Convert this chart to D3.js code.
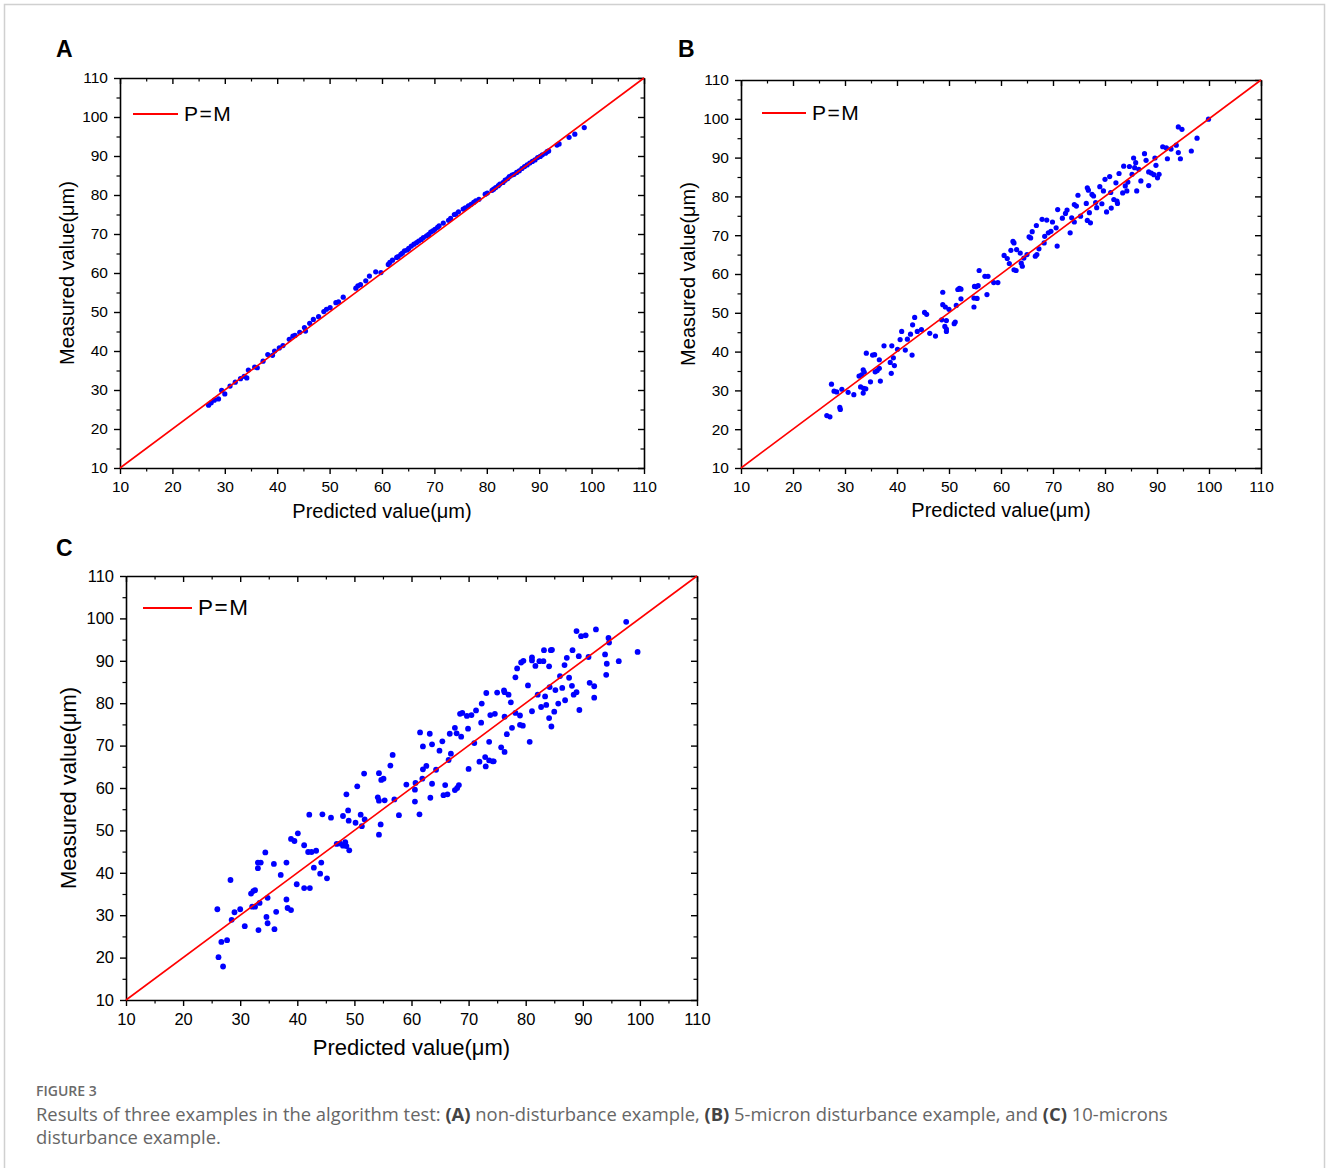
<!DOCTYPE html>
<html>
<head>
<meta charset="utf-8">
<script src="https://cdn.jsdelivr.net/npm/d3@7"></script>
<style>
  body { margin: 0; background: #fff; }
  svg text { font-family: "Liberation Sans", Arial, sans-serif; }
  svg text.cap { font-family: "Open Sans", "Noto Sans", sans-serif; }
</style>
</head>
<body>
<svg id="fig" width="1328" height="1168"></svg>
<script>
// tick values shared by every axis
const ticks = [10, 20, 30, 40, 50, 60, 70, 80, 90, 100, 110];
const minorTicks = [15, 25, 35, 45, 55, 65, 75, 85, 95, 105];

// A: non-disturbance
const aPred = [26.9, 27.4, 28.0, 28.8, 29.4, 30.0, 31.0, 32.0, 33.0, 33.7, 34.2, 34.5, 35.7, 36.2, 37.3, 38.2, 39.1, 39.5, 40.4, 41.1,
  42.3, 43.0, 43.4, 44.3, 45.2, 45.4, 46.2, 46.9, 47.9, 48.9, 49.4, 50.1, 51.2, 51.7, 52.6, 55.0, 55.4, 55.9, 56.9, 57.6,
  58.8, 59.8, 61.2, 61.5, 62.0, 62.8, 63.1, 63.6, 63.9, 64.3, 64.8, 65.1, 65.6, 66.1, 66.6, 67.0, 67.5, 67.9, 68.5, 68.9,
  69.3, 69.7, 70.1, 70.6, 70.9, 71.7, 72.7, 73.1, 73.8, 74.1, 74.6, 75.5, 75.9, 76.5, 77.0, 77.5, 77.9, 78.5, 79.7, 80.1,
  81.0, 81.3, 81.7, 82.2, 82.5, 83.1, 83.5, 84.0, 84.3, 84.8, 85.2, 85.7, 86.2, 86.7, 87.2, 87.7, 88.2, 88.7, 89.2, 89.7,
  90.2, 90.6, 91.2, 91.5, 91.8, 93.4, 93.8, 95.7, 96.8, 98.6];
const aMeas = [26.1, 26.7, 27.4, 27.7, 29.9, 29.0, 31.0, 32.0, 32.9, 33.5, 33.1, 35.1, 35.9, 35.7, 37.4, 39.1, 38.9, 40.0, 40.8, 41.4,
  43.0, 43.8, 44.0, 44.8, 46.0, 45.1, 47.1, 48.1, 48.8, 50.1, 50.7, 51.1, 52.4, 52.6, 53.8, 56.1, 56.7, 57.0, 58.0, 59.2,
  60.3, 60.1, 62.2, 62.7, 63.3, 64.0, 64.2, 64.8, 65.1, 65.7, 65.9, 66.3, 66.9, 67.4, 67.8, 68.2, 68.6, 69.1, 69.5, 69.9,
  70.5, 70.8, 71.2, 71.7, 72.1, 72.8, 73.5, 74.0, 75.0, 75.1, 75.7, 76.4, 76.7, 77.2, 77.6, 78.1, 78.5, 78.9, 80.2, 80.5,
  81.2, 81.5, 81.9, 82.4, 82.8, 83.2, 83.8, 84.2, 84.7, 85.1, 85.3, 85.8, 86.2, 86.8, 87.3, 87.7, 88.2, 88.6, 89.0, 89.6,
  89.9, 90.3, 90.7, 91.1, 91.3, 92.8, 93.1, 94.8, 95.6, 97.3];

// B: 5-micron disturbance
const bPred = [26.5, 27.1, 27.4, 27.9, 28.4, 29.0, 29.1, 29.4, 30.6, 31.7, 32.7, 33.2, 33.0, 33.6, 33.5, 34.0, 33.5, 33.7, 34.1, 34.9,
  35.3, 35.7, 35.8, 36.2, 36.6, 36.6, 36.8, 37.5, 38.7, 38.9, 39.0, 39.3, 39.5, 40.1, 40.6, 40.9, 41.6, 42.0, 42.6, 42.9,
  43.0, 43.4, 43.9, 44.7, 45.3, 45.7, 46.3, 47.4, 48.6, 48.8, 48.8, 49.3, 49.5, 49.2, 49.5, 49.5, 50.0, 51.2, 51.0, 51.4,
  51.7, 52.0, 52.3, 52.3, 54.9, 55.2, 55.6, 54.8, 55.4, 54.8, 55.8, 56.9, 57.5, 57.3, 58.6, 59.4, 60.6, 61.2, 61.6, 61.9,
  62.3, 62.5, 63.0, 62.5, 62.9, 63.7, 63.9, 64.1, 64.4, 65.0, 65.4, 65.7, 66.0, 66.8, 66.6, 66.9, 67.3, 67.9, 68.8, 68.4,
  68.3, 69.1, 69.6, 69.9, 70.6, 70.9, 70.8, 71.8, 72.4, 72.7, 73.3, 73.6, 74.1, 74.5, 74.1, 74.8, 75.3, 76.4, 76.6, 76.8,
  76.6, 77.2, 77.0, 77.5, 77.8, 78.2, 78.4, 79.0, 79.4, 79.7, 80.0, 80.3, 80.9, 81.1, 81.2, 81.7, 82.1, 82.3, 82.4, 82.7,
  83.4, 83.6, 83.9, 84.2, 84.4, 84.7, 85.2, 85.5, 85.9, 85.7, 86.1, 86.5, 86.9, 87.6, 87.9, 88.4, 88.4, 88.9, 89.4, 89.6,
  89.8, 90.1, 90.4, 91.1, 91.8, 92.0, 92.7, 93.7, 94.1, 94.1, 94.8, 94.5, 96.6, 97.7, 99.9];
const bMeas = [23.5, 23.2, 31.6, 29.8, 29.6, 25.6, 25.1, 30.3, 29.5, 28.9, 33.7, 34.0, 30.9, 30.5, 29.3, 30.4, 35.3, 34.7, 39.6, 32.2,
  39.1, 39.2, 34.8, 35.1, 35.7, 37.9, 32.4, 41.5, 37.2, 34.4, 41.5, 38.4, 36.4, 40.6, 43.1, 45.2, 40.4, 43.2, 44.5, 39.1,
  46.9, 48.8, 45.2, 45.7, 50.1, 49.6, 44.7, 44.0, 48.2, 55.3, 52.1, 51.5, 48.0, 46.5, 45.8, 45.2, 50.9, 47.6, 47.2, 51.9,
  56.0, 56.3, 56.1, 53.6, 56.8, 56.7, 57.0, 53.8, 53.7, 51.5, 60.9, 59.4, 59.4, 54.7, 57.8, 57.8, 64.8, 64.0, 62.7, 66.1,
  68.4, 68.0, 66.3, 61.1, 60.9, 65.4, 62.8, 62.0, 64.1, 65.0, 69.6, 69.3, 70.9, 72.5, 64.6, 65.0, 66.5, 74.1, 73.9, 69.7,
  68.0, 70.6, 71.0, 73.4, 71.9, 76.6, 67.2, 74.4, 75.6, 76.5, 70.6, 74.5, 73.4, 77.5, 77.9, 80.3, 74.9, 78.2, 82.2, 81.6,
  73.8, 73.2, 75.8, 80.5, 80.1, 78.4, 77.1, 82.5, 78.1, 81.4, 84.4, 76.0, 85.1, 81.0, 77.0, 79.2, 83.5, 78.8, 78.2, 85.9,
  80.9, 87.8, 82.7, 81.4, 83.7, 87.7, 85.7, 89.9, 88.7, 87.4, 81.4, 87.0, 84.0, 91.0, 89.3, 86.3, 82.8, 86.0, 85.6, 89.9,
  88.0, 84.8, 85.7, 92.8, 92.5, 89.7, 92.2, 93.2, 91.3, 97.9, 97.3, 89.7, 91.7, 95.0, 99.9];

// C: 10-micron disturbance
const cPred = [26.0, 26.2, 27.0, 26.7, 27.7, 28.3, 28.5, 29.0, 30.0, 30.8, 31.9, 32.3, 32.6, 32.1, 32.6, 33.4, 33.1, 33.1, 33.6, 33.2,
  34.4, 34.6, 34.8, 34.8, 35.9, 36.0, 36.3, 37.1, 38.1, 38.1, 38.3, 38.9, 38.9, 39.5, 40.1, 39.9, 41.2, 42.2, 41.2, 41.9,
  42.5, 43.3, 42.9, 44.0, 44.2, 45.2, 42.1, 44.4, 45.9, 46.9, 47.5, 48.0, 48.4, 48.6, 49.1, 48.0, 48.6, 48.9, 49.0, 50.2,
  51.1, 51.3, 51.8, 50.5, 51.7, 54.3, 55.1, 54.7, 56.3, 56.7, 54.1, 54.3, 55.3, 57.0, 54.6, 54.3, 57.8, 59.1, 60.6, 60.7,
  60.6, 61.4, 61.5, 63.2, 62.0, 62.0, 62.6, 61.9, 63.6, 64.3, 63.6, 63.3, 64.9, 65.4, 65.9, 65.6, 66.3, 66.5, 66.9, 66.7,
  67.6, 67.9, 67.6, 68.0, 68.3, 68.7, 68.5, 68.9, 69.7, 70.5, 69.9, 70.0, 71.0, 71.3, 72.2, 72.3, 73.1, 73.8, 74.6, 73.6,
  73.6, 71.9, 72.9, 73.0, 74.2, 74.4, 75.0, 76.2, 76.3, 77.0, 77.4, 76.3, 75.7, 76.3, 76.7, 77.6, 78.2, 79.0, 79.0, 79.5,
  78.2, 78.5, 79.2, 79.6, 80.4, 81.1, 81.1, 81.7, 82.4, 83.1, 83.2, 84.1, 84.4, 84.6, 81.1, 80.7, 82.1, 82.7, 83.4, 83.6,
  84.1, 84.5, 84.2, 85.0, 85.2, 85.7, 86.0, 86.4, 86.8, 87.2, 87.6, 88.1, 88.2, 88.9, 89.7, 90.5, 89.3, 88.9, 88.4, 86.9,
  89.4, 91.0, 91.2, 92.0, 92.0, 92.3, 93.9, 94.2, 94.1, 94.5, 94.6, 96.3, 97.6, 99.6];
const cMeas = [31.4, 20.1, 17.9, 23.7, 24.1, 38.3, 28.9, 30.7, 31.4, 27.4, 35.1, 35.7, 35.9, 32.0, 32.0, 32.9, 41.1, 42.4, 42.4, 26.5,
  44.8, 29.6, 28.1, 34.1, 42.1, 26.7, 30.8, 39.5, 42.4, 33.7, 31.7, 31.2, 48.0, 47.5, 49.3, 37.3, 36.4, 36.4, 46.5, 44.9,
  44.9, 45.2, 41.2, 39.8, 42.4, 38.7, 53.7, 53.8, 53.0, 46.8, 46.9, 46.4, 47.2, 46.3, 45.3, 53.4, 58.5, 54.7, 52.3, 51.8,
  53.7, 51.0, 52.6, 60.4, 63.4, 63.5, 62.2, 61.9, 65.3, 67.8, 57.8, 57.0, 57.1, 57.3, 51.4, 49.0, 53.6, 60.8, 59.6, 61.2,
  56.8, 53.8, 73.1, 72.8, 69.8, 64.4, 65.2, 62.2, 70.3, 64.3, 61.0, 57.7, 68.8, 71.0, 60.7, 58.3, 58.5, 66.6, 68.1, 72.8,
  74.2, 72.9, 59.5, 60.0, 60.7, 72.1, 77.5, 77.7, 77.0, 77.2, 74.0, 64.5, 70.6, 78.3, 75.4, 79.9, 82.4, 77.2, 77.5, 70.9,
  66.5, 66.2, 67.3, 65.1, 66.3, 66.3, 82.5, 83.0, 82.6, 82.0, 80.2, 76.8, 69.6, 68.5, 72.7, 74.2, 77.7, 77.1, 74.9, 74.7,
  86.1, 88.2, 89.6, 90.0, 84.2, 90.8, 90.1, 88.8, 89.9, 89.9, 92.5, 88.7, 92.5, 92.6, 78.1, 70.9, 82.0, 79.1, 81.6, 79.6,
  76.5, 74.5, 83.8, 78.0, 83.1, 79.9, 86.4, 83.6, 89.0, 90.7, 86.0, 84.1, 92.5, 97.0, 95.8, 96.0, 91.1, 82.6, 82.0, 80.7,
  78.4, 90.9, 84.8, 84.0, 81.3, 97.4, 91.5, 89.3, 86.7, 95.4, 94.3, 89.9, 99.2, 92.1];

const xTitle = "Predicted value(\u03bcm)";
const yTitle = "Measured value(\u03bcm)";
const legendLabel = "P=M";

let svg = d3.select("#fig");

// light frame around the figure
svg.append("rect")
  .attr("x", 4.5).attr("y", 4.5)
  .attr("width", 1320).attr("height", 1200)
  .attr("fill", "none").attr("stroke", "#d0d0d0").attr("stroke-width", 1.5);

let panels = [
  { letter: "A", left: 120, top: 78, w: 524, h: 390, r: 2.6, tickFont: 15.5, titleFont: 20, legFont: 21,
    letterX: 56, letterY: 57, yTitleX: 74, xTitleY: 518, legDx: 13, legLen: 45, legDy: 36, pred: aPred, meas: aMeas },
  { letter: "B", left: 741, top: 80, w: 520, h: 388, r: 2.6, tickFont: 15.5, titleFont: 20, legFont: 21,
    letterX: 678, letterY: 57, yTitleX: 695, xTitleY: 517, legDx: 21, legLen: 44, legDy: 33, pred: bPred, meas: bMeas },
  { letter: "C", left: 126, top: 576, w: 571, h: 424, r: 2.9, tickFont: 16.5, titleFont: 22, legFont: 22.5,
    letterX: 56, letterY: 556, yTitleX: 76, xTitleY: 1055, legDx: 17, legLen: 49, legDy: 32, pred: cPred, meas: cMeas }
];

let drawPanel = (p) => {
  let g = svg.append("g").attr("transform", `translate(${p.left}, ${p.top})`);

  let x = d3.scaleLinear().domain([10, 110]).range([0, p.w]);
  let y = d3.scaleLinear().domain([10, 110]).range([p.h, 0]);

  let styleAxis = (sel) => {
    sel.attr("font-size", p.tickFont).attr("font-family", "Liberation Sans, Arial, sans-serif");
    sel.select(".domain").attr("stroke-width", 1.6);
    sel.selectAll(".tick line").attr("stroke-width", 1.4);
    sel.selectAll(".tick text").attr("fill", "#000");
  };
  let minorAxis = (sel) => {
    sel.select(".domain").remove();
    sel.selectAll(".tick line").attr("stroke-width", 1.2);
  };

  // bottom and left: ticks outward, labelled
  g.append("g").attr("transform", `translate(0, ${p.h})`)
    .call(d3.axisBottom(x).tickValues(ticks).tickSize(6).tickSizeOuter(0).tickPadding(7))
    .call(styleAxis);
  g.append("g")
    .call(d3.axisLeft(y).tickValues(ticks).tickSize(6).tickSizeOuter(0).tickPadding(6))
    .call(styleAxis);
  // top and right: ticks inward
  g.append("g")
    .call(d3.axisTop(x).tickValues(ticks).tickSize(-6).tickSizeOuter(0).tickFormat(""))
    .call(styleAxis);
  g.append("g").attr("transform", `translate(${p.w}, 0)`)
    .call(d3.axisRight(y).tickValues(ticks).tickSize(-6).tickSizeOuter(0).tickFormat(""))
    .call(styleAxis);

  // minor ticks
  g.append("g").attr("transform", `translate(0, ${p.h})`)
    .call(d3.axisBottom(x).tickValues(minorTicks).tickSize(3.5).tickFormat("")).call(minorAxis);
  g.append("g")
    .call(d3.axisLeft(y).tickValues(minorTicks).tickSize(3.5).tickFormat("")).call(minorAxis);
  g.append("g")
    .call(d3.axisTop(x).tickValues(minorTicks).tickSize(-3.5).tickFormat("")).call(minorAxis);
  g.append("g").attr("transform", `translate(${p.w}, 0)`)
    .call(d3.axisRight(y).tickValues(minorTicks).tickSize(-3.5).tickFormat("")).call(minorAxis);

  // points
  let pts = p.pred.map((v, i) => ({ pred: v, meas: p.meas[i] }));
  g.selectAll("circle")
    .data(pts)
    .enter()
    .append("circle")
    .attr("cx", d => x(d.pred))
    .attr("cy", d => y(d.meas))
    .attr("r", p.r)
    .attr("fill", "#0000ff");

  // P = M line
  g.append("line")
    .attr("x1", x(10)).attr("y1", y(10))
    .attr("x2", x(110)).attr("y2", y(110))
    .attr("stroke", "#ff0000").attr("stroke-width", 1.6);

  // legend
  g.append("line")
    .attr("x1", p.legDx).attr("x2", p.legDx + p.legLen)
    .attr("y1", p.legDy).attr("y2", p.legDy)
    .attr("stroke", "#ff0000").attr("stroke-width", 1.8);
  g.append("text")
    .attr("x", p.legDx + p.legLen + 6).attr("y", p.legDy + 7)
    .attr("font-size", p.legFont)
    .attr("letter-spacing", 1.5)
    .text(legendLabel);

  // axis titles
  svg.append("text")
    .attr("x", p.left + p.w / 2).attr("y", p.xTitleY)
    .attr("text-anchor", "middle")
    .attr("font-size", p.titleFont)
    .text(xTitle);
  svg.append("text")
    .attr("transform", `translate(${p.yTitleX}, ${p.top + p.h / 2}) rotate(-90)`)
    .attr("text-anchor", "middle")
    .attr("font-size", p.titleFont)
    .text(yTitle);

  // panel letter
  svg.append("text")
    .attr("x", p.letterX).attr("y", p.letterY)
    .attr("font-size", 23)
    .attr("font-weight", "bold")
    .text(p.letter);
};

panels.forEach(drawPanel);

// caption
svg.append("text").attr("class", "cap")
  .attr("x", 36).attr("y", 1096)
  .attr("font-size", 14)
  .attr("font-weight", 600)
  .attr("fill", "#6a6a6a")
  .text("FIGURE 3");

let line1 = svg.append("text").attr("class", "cap")
  .attr("x", 36).attr("y", 1121).attr("font-size", 18.4).attr("fill", "#666");
[["Results of three examples in the algorithm test: ", false], ["(A)", true], [" non-disturbance example, ", false],
 ["(B)", true], [" 5-micron disturbance example, and ", false], ["(C)", true], [" 10-microns", false]]
  .forEach(([t, b]) => line1.append("tspan").attr("font-weight", b ? 700 : 400).attr("fill", b ? "#444" : "#666").text(t));
svg.append("text").attr("class", "cap")
  .attr("x", 36).attr("y", 1144).attr("font-size", 18.4).attr("fill", "#666")
  .text("disturbance example.");
</script>
</body>
</html>
